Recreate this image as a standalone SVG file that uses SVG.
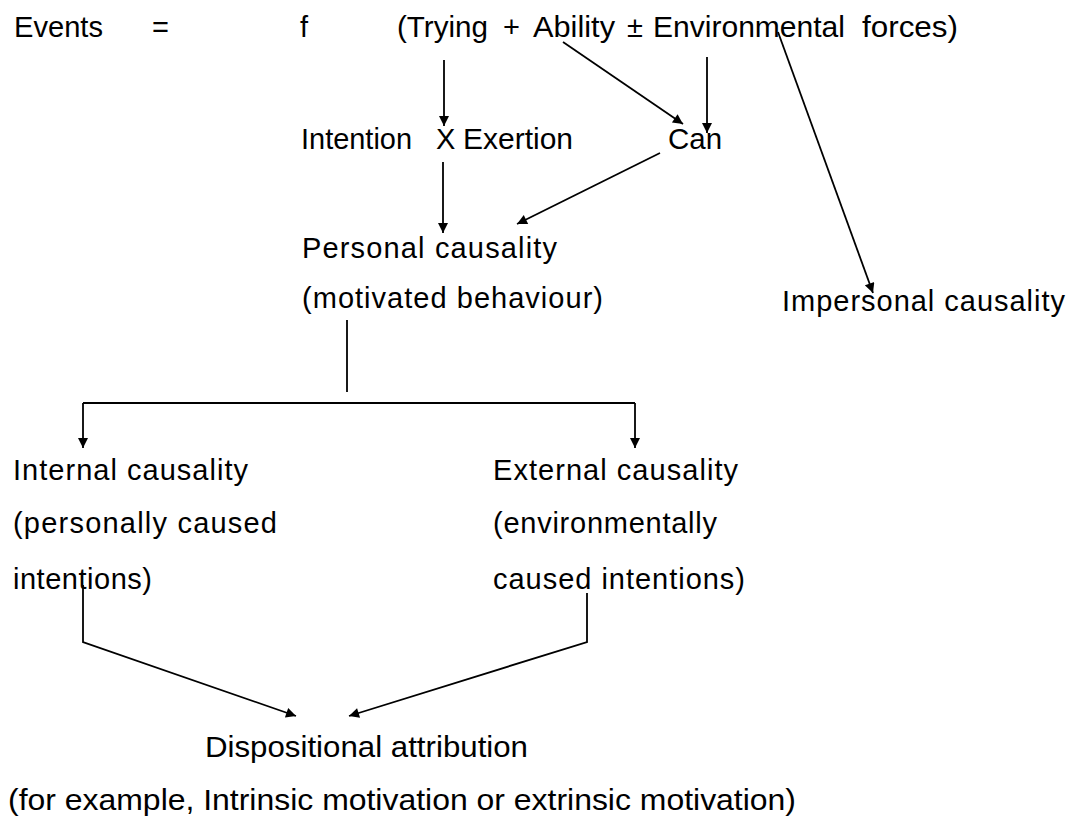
<svg xmlns="http://www.w3.org/2000/svg" width="1073" height="817" viewBox="0 0 1073 817">
<defs>
<style>
text{font-family:"Liberation Sans",Arial,sans-serif;font-size:29px;fill:#000}
.c line,.c polyline{stroke:#000;stroke-width:1.8;fill:none}
</style>
<marker id="ah" viewBox="0 0 10 10" refX="10" refY="5" markerWidth="12" markerHeight="10" markerUnits="userSpaceOnUse" orient="auto">
<path d="M0,0 L10,5 L0,10 z" fill="#000"/>
</marker>
</defs>
<rect width="1073" height="817" fill="#fff"/>
<g id="equation">
<text x="14" y="37" textLength="89" lengthAdjust="spacingAndGlyphs">Events</text>
<text x="152" y="37">=</text>
<text x="300" y="37">f</text>
<text x="397" y="37" textLength="91" lengthAdjust="spacingAndGlyphs">(Trying</text>
<text x="503" y="37">+</text>
<text x="533" y="37" textLength="82" lengthAdjust="spacingAndGlyphs">Ability</text>
<text x="627" y="37">±</text>
<text x="653" y="37" textLength="192" lengthAdjust="spacingAndGlyphs">Environmental</text>
<text x="862" y="37" textLength="96" lengthAdjust="spacingAndGlyphs">forces)</text>
</g>
<g id="intention-exertion">
<text x="301" y="149" textLength="111" lengthAdjust="spacingAndGlyphs">Intention</text>
<text x="436" y="149">X</text>
<text x="463" y="149" textLength="110" lengthAdjust="spacingAndGlyphs">Exertion</text>
</g>
<g id="can"><text x="668" y="149" textLength="54" lengthAdjust="spacingAndGlyphs">Can</text></g>
<g id="personal">
<text x="302" y="258" textLength="255" lengthAdjust="spacing">Personal causality</text>
<text x="302" y="308" textLength="301" lengthAdjust="spacing">(motivated behaviour)</text>
</g>
<g id="impersonal"><text x="782" y="311" textLength="283" lengthAdjust="spacing">Impersonal causality</text></g>
<g id="internal">
<text x="13" y="480" textLength="235" lengthAdjust="spacing">Internal causality</text>
<text x="13" y="533" textLength="264" lengthAdjust="spacing">(personally caused</text>
<text x="13" y="589" textLength="139" lengthAdjust="spacing">intentions)</text>
</g>
<g id="external">
<text x="493" y="480" textLength="245" lengthAdjust="spacing">External causality</text>
<text x="493" y="533" textLength="224" lengthAdjust="spacing">(environmentally</text>
<text x="493" y="589" textLength="252" lengthAdjust="spacing">caused intentions)</text>
</g>
<g id="dispositional">
<text x="205" y="757" textLength="323" lengthAdjust="spacingAndGlyphs">Dispositional attribution</text>
<text x="8" y="810" textLength="788" lengthAdjust="spacingAndGlyphs">(for example, Intrinsic motivation or extrinsic motivation)</text>
</g>
<g id="connectors" class="c">
<line x1="444" y1="60" x2="444" y2="126" marker-end="url(#ah)"/>
<line x1="563" y1="42" x2="683" y2="124" marker-end="url(#ah)"/>
<line x1="707" y1="57" x2="707" y2="133" marker-end="url(#ah)"/>
<line x1="778" y1="32" x2="873" y2="293" marker-end="url(#ah)"/>
<line x1="443" y1="162" x2="443" y2="233" marker-end="url(#ah)"/>
<line x1="660" y1="153" x2="517" y2="224" marker-end="url(#ah)"/>
<line x1="347" y1="320" x2="347" y2="392"/>
<line x1="83" y1="403" x2="635" y2="403"/>
<line x1="83" y1="403" x2="83" y2="448" marker-end="url(#ah)"/>
<line x1="635" y1="403" x2="635" y2="448" marker-end="url(#ah)"/>
<polyline points="83,585 83,642 296,716" marker-end="url(#ah)"/>
<polyline points="587,593 587,642 349,716" marker-end="url(#ah)"/>
</g>
</svg>
